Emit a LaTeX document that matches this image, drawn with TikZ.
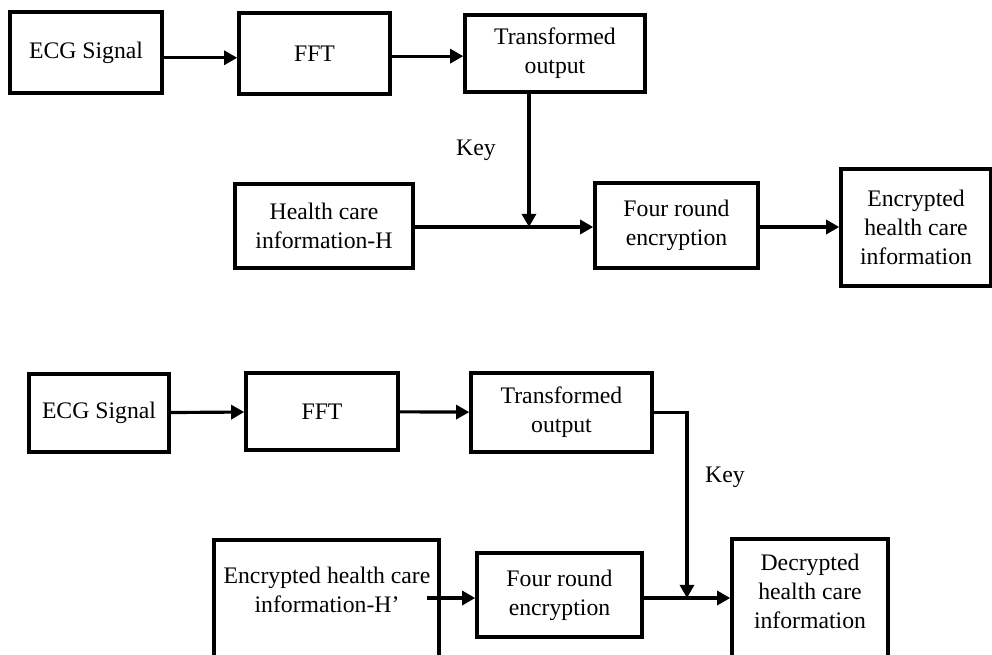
\documentclass[tikz,border=0pt]{standalone}
\usepackage{fontspec}
\setmainfont{Liberation Serif}
\usetikzlibrary{arrows.meta}

\begin{document}
\begin{tikzpicture}[x=0.02cm, y=-0.02cm,
    font=\fontsize{13.5}{16.5}\selectfont,
    blk/.style={draw, line width=2pt, align=center, inner sep=0pt},
    arr/.style={line width=1.8pt, -{Triangle[length=7.5pt, width=8pt]}}]
    \useasboundingbox (0,0) rectangle (992,654);

    % Encryption chain (upper half)
    \node[blk, minimum width=3.04cm, minimum height=1.62cm] (ecgA) at (86,52.5) {ECG Signal};
    \node[blk, minimum width=3.02cm, minimum height=1.62cm] (fftA) at (314.5,53.5) {FFT};
    \node[blk, minimum width=3.6cm, minimum height=1.54cm] (trA) at (555,53.5) {Transformed\\output};
    \node[blk, minimum width=3.56cm, minimum height=1.68cm] (hcA) at (324,226) {Health care\\information-H};
    \node[blk, minimum width=3.26cm, minimum height=1.7cm] (frA) at (676.5,225.5) {Four round\\encryption};
    \node[blk, minimum width=3.0cm, minimum height=2.34cm] (enA) at (916,227.5) {Encrypted\\health care\\information};
    \node (kA) at (476,150) {Key};
    \coordinate (keyA) at (529,227);

    \draw[arr] ([yshift=-3pt]ecgA.east) -- ([yshift=-3pt]ecgA.east -| fftA.west);
    \draw[arr] ([yshift=-1.5pt]fftA.east) -- ([yshift=-1.5pt]fftA.east -| trA.west);
    \draw[arr] (trA.south -| keyA) -- (keyA);
    \draw[arr] (hcA.east |- keyA) -- (keyA -| frA.west);
    \draw[arr] (frA.east |- keyA) -- (keyA -| enA.west);

    % Decryption chain (lower half), last boxes run off the page
    \node[blk, minimum width=2.8cm, minimum height=1.56cm] (ecgB) at (99,413) {ECG Signal};
    \node[blk, minimum width=3.04cm, minimum height=1.54cm] (fftB) at (322,411.5) {FFT};
    \node[blk, minimum width=3.62cm, minimum height=1.58cm] (trB) at (561.5,412.5) {Transformed\\output};
    \node[blk, minimum width=4.5cm, minimum height=2.8cm] (encB) at (326.5,610) {};
    \node[align=center] (encBt) at (327,590) {Encrypted health care\\information-H'};
    \node[blk, minimum width=3.3cm, minimum height=1.68cm] (frB) at (559.5,595) {Four round\\encryption};
    \node[blk, minimum width=3.12cm, minimum height=2.82cm] (decB) at (810,609.5) {};
    \node[align=center] (decBt) at (810,591) {Decrypted\\health care\\information};
    \node (kB) at (725,477) {Key};
    \coordinate (hB) at (427,598);
    \coordinate (keyB) at (687,598);

    \draw[arr] (ecgB) -- (fftB);
    \draw[arr] (fftB) -- (trB);
    \draw[arr] (trB.east) -- (trB.east -| keyB) -- (keyB);
    \draw[arr] (hB) -- (hB -| frB.west);
    \draw[arr] (frB.east |- keyB) -- (keyB -| decB.west);
\end{tikzpicture}
\end{document}
